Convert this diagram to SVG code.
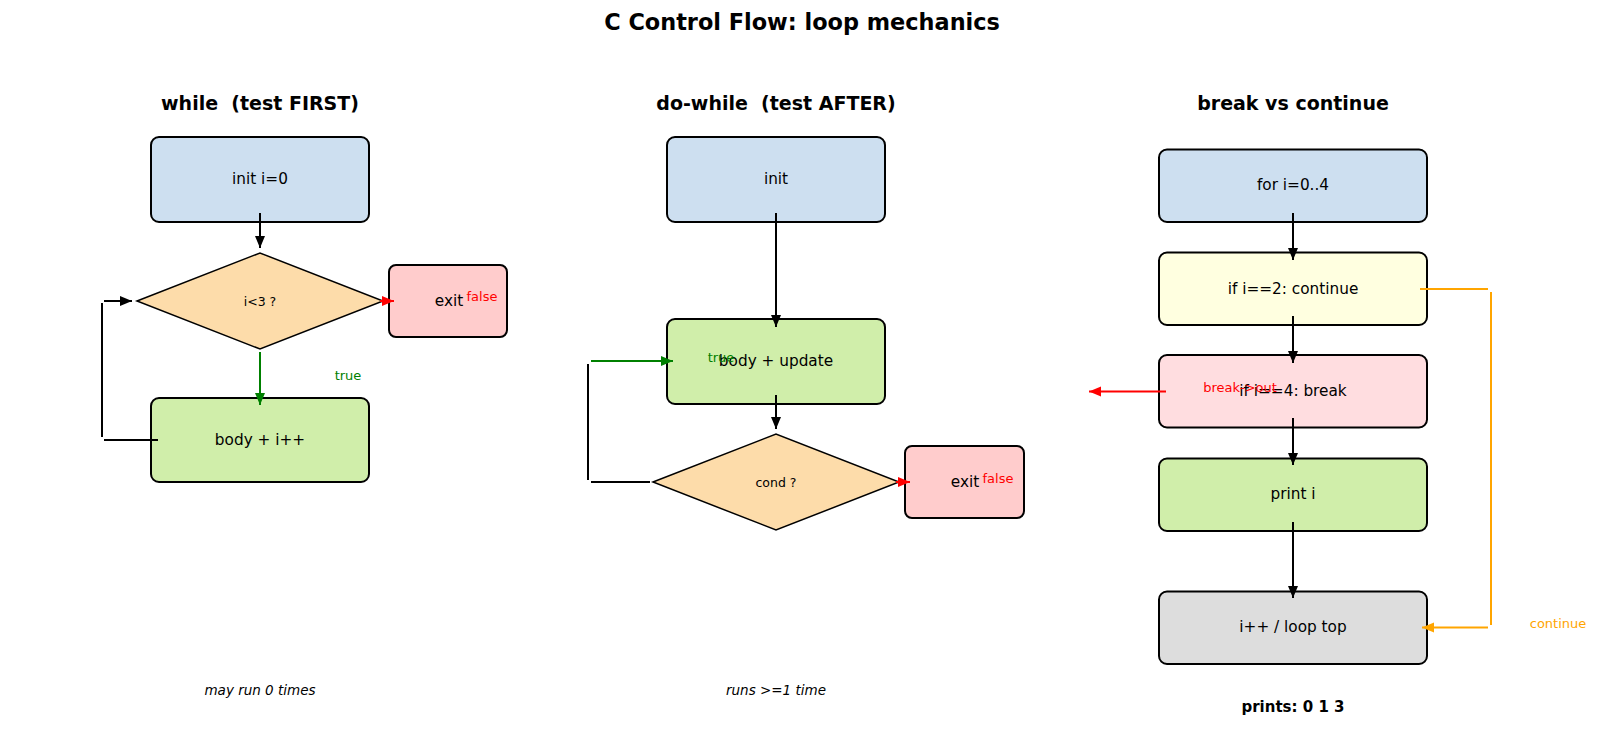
<svg xmlns="http://www.w3.org/2000/svg" width="1600" height="737" viewBox="0 0 1600 737">
<style>
text{font-family:"DejaVu Sans","Liberation Sans",sans-serif;text-anchor:middle;dominant-baseline:central;white-space:pre}
.title{font-size:22.4px;font-weight:bold}
.sub{font-size:19px;font-weight:bold}
.box{stroke:#000;stroke-width:2}
.dia{stroke:#000;stroke-width:1.5}
.lbl{font-size:15.3px}
.sm{font-size:12.5px}
.note{font-size:13.5px;font-style:italic}
.edge{fill:none;stroke-width:2}
.k{stroke:#000}.g{stroke:#008000}.r{stroke:#ff0000}.o{stroke:#ffa500}
</style>
<defs>
<marker id="ak" markerUnits="userSpaceOnUse" markerWidth="12" markerHeight="11" refX="12" refY="5.5" orient="auto"><path d="M0,0.5 L12,5.5 L0,10.5 z" fill="#000"/></marker>
<marker id="ag" markerUnits="userSpaceOnUse" markerWidth="12" markerHeight="11" refX="12" refY="5.5" orient="auto"><path d="M0,0.5 L12,5.5 L0,10.5 z" fill="#008000"/></marker>
<marker id="ar" markerUnits="userSpaceOnUse" markerWidth="12" markerHeight="11" refX="12" refY="5.5" orient="auto"><path d="M0,0.5 L12,5.5 L0,10.5 z" fill="#ff0000"/></marker>
<marker id="ao" markerUnits="userSpaceOnUse" markerWidth="12" markerHeight="11" refX="12" refY="5.5" orient="auto"><path d="M0,0.5 L12,5.5 L0,10.5 z" fill="#ffa500"/></marker>
</defs>
<rect width="1600" height="737" fill="#fff"/>
<text class="title" x="802" y="22">C Control Flow: loop mechanics</text>
<text class="sub" x="260" y="103" xml:space="preserve">while  (test FIRST)</text>
<text class="sub" x="776" y="103" xml:space="preserve">do-while  (test AFTER)</text>
<text class="sub" x="1293" y="103">break vs continue</text>

<g id="w_init"><rect class="box" x="151" y="137" width="218" height="85" rx="8" fill="#cddff0"/><text class="lbl" x="260" y="179">init i=0</text></g>
<g id="w_cond"><polygon class="dia" points="137,301 260,253 383,301 260,349" fill="#fddcaa"/><text class="sm" x="260" y="301">i&lt;3 ?</text></g>
<g id="w_exit"><rect class="box" x="389" y="265" width="118" height="72" rx="7" fill="#ffcccc"/><text class="lbl" x="449" y="301">exit</text></g>
<g id="w_body"><rect class="box" x="151" y="398" width="218" height="84" rx="8" fill="#d0eeaa"/><text class="lbl" x="260" y="440">body + i++</text></g>

<g id="d_init"><rect class="box" x="667" y="137" width="218" height="85" rx="8" fill="#cddff0"/><text class="lbl" x="776" y="179">init</text></g>
<g id="d_body"><rect class="box" x="667" y="319" width="218" height="85" rx="8" fill="#d0eeaa"/><text class="lbl" x="776" y="361">body + update</text></g>
<g id="d_cond"><polygon class="dia" points="653,482 776,434 899,482 776,530" fill="#fddcaa"/><text class="sm" x="776" y="482">cond ?</text></g>
<g id="d_exit"><rect class="box" x="905" y="446" width="119" height="72" rx="7" fill="#ffcccc"/><text class="lbl" x="965" y="482">exit</text></g>

<g id="b_for"><rect class="box" x="1159" y="149.5" width="268" height="72.5" rx="8" fill="#cddff0"/><text class="lbl" x="1293" y="185">for i=0..4</text></g>
<g id="b_cont"><rect class="box" x="1159" y="252.5" width="268" height="72.5" rx="8" fill="#ffffe0"/><text class="lbl" x="1293" y="288.5">if i==2: continue</text></g>
<g id="b_break"><rect class="box" x="1159" y="355" width="268" height="72.5" rx="8" fill="#ffdde0"/><text class="lbl" x="1293" y="391">if i==4: break</text></g>
<g id="b_print"><rect class="box" x="1159" y="458.5" width="268" height="72.5" rx="8" fill="#d0eeaa"/><text class="lbl" x="1293" y="494">print i</text></g>
<g id="b_top"><rect class="box" x="1159" y="591.5" width="268" height="72.5" rx="8" fill="#dddddd"/><text class="lbl" x="1293" y="627">i++ / loop top</text></g>

<g id="connectors">
<path class="edge k" d="M260,213 L260,248" marker-end="url(#ak)"/>
<path class="edge r" d="M380,301 L394,301" marker-end="url(#ar)"/>
<path class="edge g" d="M260,352 L260,405" marker-end="url(#ag)"/>
<path class="edge k" d="M158,440 L104,440"/>
<path class="edge k" d="M102,437 L102,303"/>
<path class="edge k" d="M104,301 L132,301" marker-end="url(#ak)"/>
<text x="482" y="296" style="font-size:13px;fill:#ff0000">false</text>
<text x="348" y="375" style="font-size:13px;fill:#008000">true</text>

<path class="edge k" d="M776,213 L776,327" marker-end="url(#ak)"/>
<path class="edge k" d="M776,395 L776,429" marker-end="url(#ak)"/>
<path class="edge r" d="M896,482 L910,482" marker-end="url(#ar)"/>
<path class="edge k" d="M650,482 L591,482"/>
<path class="edge k" d="M588,480 L588,364"/>
<path class="edge g" d="M591,361 L673,361" marker-end="url(#ag)"/>
<text x="721" y="357" style="font-size:13px;fill:#008000">true</text>
<text x="998" y="478" style="font-size:13px;fill:#ff0000">false</text>

<path class="edge k" d="M1293,213 L1293,260" marker-end="url(#ak)"/>
<path class="edge k" d="M1293,316 L1293,363" marker-end="url(#ak)"/>
<path class="edge k" d="M1293,418 L1293,465" marker-end="url(#ak)"/>
<path class="edge k" d="M1293,522 L1293,598" marker-end="url(#ak)"/>
<path class="edge r" d="M1166,391.5 L1089,391.5" marker-end="url(#ar)"/>
<text x="1240" y="387" style="font-size:13px;fill:#ff0000">break-&gt;out</text>
<path class="edge o" d="M1420,289 L1488,289"/>
<path class="edge o" d="M1491,292 L1491,625"/>
<path class="edge o" d="M1488,627.5 L1422,627.5" marker-end="url(#ao)"/>
<text x="1558" y="623" style="font-size:13px;fill:#ffa500">continue</text>
</g>

<text class="note" x="260" y="690">may run 0 times</text>
<text class="note" x="776" y="690">runs &gt;=1 time</text>
<text x="1293" y="707" style="font-size:15px;font-weight:bold">prints: 0 1 3</text>
</svg>
